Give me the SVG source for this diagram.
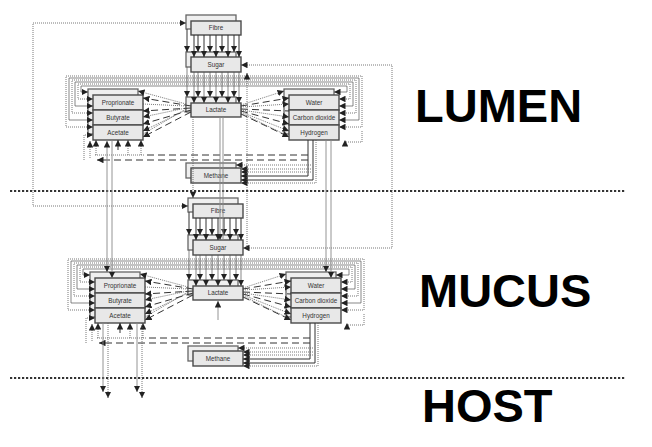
<svg xmlns="http://www.w3.org/2000/svg" xmlns:xlink="http://www.w3.org/1999/xlink" width="652" height="447" viewBox="0 0 652 447">
<style>
.bk{fill:#efefef;stroke:#666;stroke-width:1.3}
.fr{fill:#e8e8e8;stroke:#4a4a4a;stroke-width:1.4}
.lb{font-family:"Liberation Sans",Arial,sans-serif;font-size:6.3px;fill:#333;text-anchor:middle}
.zone{font-family:"Liberation Sans",Arial,sans-serif;font-size:47px;font-weight:bold;fill:#000}
.dv{stroke:#333;stroke-width:2.2;stroke-dasharray:2.2 1.8;fill:none}
.s{stroke:#333;stroke-width:1;fill:none}
.g{stroke:#555;stroke-width:.7;fill:none}
.d{stroke:#555;stroke-width:.8;stroke-dasharray:1 1;fill:none}
.k{stroke:#333;stroke-width:1;stroke-dasharray:7 4;fill:none}
.lg{stroke:#888;stroke-width:.9;fill:none}
.e{marker-end:url(#a)}
.b{marker-start:url(#a);marker-end:url(#a)}
</style>
<defs>
<marker id="a" viewBox="0 0 10 10" refX="10" refY="5" markerWidth="6.5" markerHeight="6.5" markerUnits="userSpaceOnUse" orient="auto-start-reverse"><path d="M0,0L10,5L0,10z" fill="#222"/></marker>
</defs>
<rect width="652" height="447" fill="#fff"/>

<!-- zone dividers and labels -->
<g id="zones">
<line class="dv" x1="10" y1="191" x2="626" y2="191"/>
<line class="dv" x1="10" y1="378" x2="626" y2="378"/>
<text class="zone" x="415" y="122">LUMEN</text>
<text class="zone" x="419" y="307">MUCUS</text>
<text class="zone" x="422" y="422">HOST</text>
</g>

<!-- LUMEN nodes -->
<g id="lumen-fibre"><rect class="bk" x="186" y="15" width="50" height="14"/><rect class="fr" x="191" y="21" width="50" height="14"/><text class="lb" x="216" y="30.2">Fibre</text></g>
<g id="lumen-sugar"><rect class="bk" x="186" y="52" width="50" height="15"/><rect class="fr" x="191" y="57" width="50" height="15"/><text class="lb" x="216" y="66.7">Sugar</text></g>
<g id="lumen-lactate"><rect class="bk" x="186" y="97" width="50" height="15"/><rect class="fr" x="191" y="103" width="50" height="14"/><text class="lb" x="216" y="112.2">Lactate</text></g>
<g id="lumen-methane"><rect class="bk" x="186" y="163" width="50" height="15"/><rect class="fr" x="191" y="168" width="50" height="15"/><text class="lb" x="216" y="177.7">Methane</text></g>
<g id="lumen-scfa-stack"><rect class="bk" x="88" y="89" width="50" height="45"/></g>
<g id="lumen-proprionate"><rect class="fr" x="93" y="95" width="50" height="15"/><text class="lb" x="118" y="104.7">Proprionate</text></g>
<g id="lumen-butyrate"><rect class="fr" x="93" y="110" width="50" height="15"/><text class="lb" x="118" y="119.7">Butyrate</text></g>
<g id="lumen-acetate"><rect class="fr" x="93" y="125" width="50" height="15"/><text class="lb" x="118" y="134.7">Acetate</text></g>
<g id="lumen-gas-stack"><rect class="bk" x="284" y="89" width="50" height="45"/></g>
<g id="lumen-water"><rect class="fr" x="289" y="95" width="50" height="15"/><text class="lb" x="314" y="104.7">Water</text></g>
<g id="lumen-co2"><rect class="fr" x="289" y="110" width="50" height="15"/><text class="lb" x="314" y="119.7">Carbon dioxide</text></g>
<g id="lumen-hydrogen"><rect class="fr" x="289" y="125" width="50" height="15"/><text class="lb" x="314" y="134.7">Hydrogen</text></g>

<!-- MUCUS nodes -->
<g id="mucus-fibre"><rect class="bk" x="188" y="198" width="50" height="14"/><rect class="fr" x="193" y="204" width="50" height="14"/><text class="lb" x="218" y="213.2">Fibre</text></g>
<g id="mucus-sugar"><rect class="bk" x="188" y="235" width="50" height="15"/><rect class="fr" x="193" y="240" width="50" height="15"/><text class="lb" x="218" y="249.7">Sugar</text></g>
<g id="mucus-lactate"><rect class="bk" x="188" y="280" width="50" height="15"/><rect class="fr" x="193" y="286" width="50" height="14"/><text class="lb" x="218" y="295.2">Lactate</text></g>
<g id="mucus-methane"><rect class="bk" x="188" y="346" width="50" height="15"/><rect class="fr" x="193" y="351" width="50" height="15"/><text class="lb" x="218" y="360.7">Methane</text></g>
<g id="mucus-scfa-stack"><rect class="bk" x="90" y="272" width="50" height="45"/></g>
<g id="mucus-proprionate"><rect class="fr" x="95" y="278" width="50" height="15"/><text class="lb" x="120" y="287.7">Proprionate</text></g>
<g id="mucus-butyrate"><rect class="fr" x="95" y="293" width="50" height="15"/><text class="lb" x="120" y="302.7">Butyrate</text></g>
<g id="mucus-acetate"><rect class="fr" x="95" y="308" width="50" height="15"/><text class="lb" x="120" y="317.7">Acetate</text></g>
<g id="mucus-gas-stack"><rect class="bk" x="286" y="272" width="50" height="45"/></g>
<g id="mucus-water"><rect class="fr" x="291" y="278" width="50" height="15"/><text class="lb" x="316" y="287.7">Water</text></g>
<g id="mucus-co2"><rect class="fr" x="291" y="293" width="50" height="15"/><text class="lb" x="316" y="302.7">Carbon dioxide</text></g>
<g id="mucus-hydrogen"><rect class="fr" x="291" y="308" width="50" height="15"/><text class="lb" x="316" y="317.7">Hydrogen</text></g>

<!-- connectors -->
<g id="connectors">
<g id="flows-lumen">
<!-- fibre to sugar -->
<path class="s e" d="M187,29V52"/><path class="s e" d="M198,35V52"/><path class="s e" d="M210,35V52"/><path class="s e" d="M222,35V52"/><path class="s e" d="M234,35V52"/>
<path class="s e" d="M194,35V57"/><path class="s e" d="M204,35V57"/><path class="s e" d="M216,35V57"/><path class="s e" d="M228,35V57"/><path class="s e" d="M239,35V57"/>
<!-- sugar to lactate -->
<path class="g e" d="M187,67V97"/><path class="g e" d="M198,72V97"/><path class="g e" d="M210,72V97"/><path class="g e" d="M222,72V97"/><path class="g e" d="M234,72V97"/>
<path class="g e" d="M194,72V103"/><path class="g e" d="M204,72V103"/><path class="g e" d="M216,72V103"/><path class="g e" d="M228,72V103"/><path class="g e" d="M239,72V103"/>
<!-- lactate to SCFA fan -->
<path class="d e" d="M186,104L138,91"/>
<path class="k e" d="M191,106L143,98"/>
<path class="d" d="M186,106L143,104"/>
<path class="k e" d="M191,108L143,111"/>
<path class="d e" d="M186,108L143,117"/>
<path class="k e" d="M191,110L143,124"/>
<path class="d e" d="M186,110L143,131"/>
<path class="k e" d="M191,112L143,137"/>
<path class="d" d="M186,109L143,134"/>
<!-- lactate to gas fan -->
<path class="d e" d="M241,105L284,91"/>
<path class="k e" d="M241,106L289,98"/>
<path class="d e" d="M241,107L289,104"/>
<path class="k" d="M241,109L289,111"/>
<path class="d e" d="M241,110L289,117"/>
<path class="k e" d="M241,111L289,124"/>
<path class="d e" d="M241,112L289,131"/>
<path class="k e" d="M241,114L289,137"/>
<path class="d" d="M241,113L284,134"/>
<!-- recirculation loops -->
<path class="d b" d="M93,127H66V76H362V127H339"/>
<path class="g b" d="M93,120H69V78H359V120H339"/>
<path class="d b" d="M93,113H72V80H356V113H339"/>
<path class="g b" d="M93,106H75V82H353V106H339"/>
<path class="d b" d="M93,99H78V84H350V99H339"/>
<path class="g b" d="M88,92H81V86H347V92H334"/>
<path class="d e" d="M362,131V142H345V140"/>
<path class="d e" d="M84,160V135H93"/>
<!-- below SCFA -->
<path class="d" d="M95,155H145"/>
<path class="d e" d="M96,155V140"/>
<path class="s e" d="M118,150V140"/>
<path class="d e" d="M128,155V140"/>
<path class="d e" d="M141,155V140"/>
<path class="d e" d="M90,158V141"/>
<path class="k" d="M308,155H145"/>
<path class="k e" d="M308,160H97"/>
<!-- hydrogen to methane -->
<path class="s e" d="M308,140V176H241"/>
<path class="s e" d="M313,140V180H241"/>
<path class="d e" d="M311,165H236"/>
<path class="d e" d="M311,169H241"/>
<path class="d e" d="M311,172H241"/>
<path class="d e" d="M316,140V183H241"/>
</g>
<use xlink:href="#flows-lumen" href="#flows-lumen" transform="translate(2,183)"/>

<!-- between lumen and mucus -->
<path class="d b" d="M186,23H33V206H188"/>
<path class="d b" d="M241,65H392V248H243"/>
<path class="d e" d="M247,248V73"/>
<path class="d e" d="M193,117V198"/>
<path class="lg e" d="M220,117V240"/>
<path class="lg" d="M223,117V240"/>
<path class="lg b" d="M107,141V272"/>
<path class="lg e" d="M112,140V278"/>
<path class="lg e" d="M326,140V272"/>
<path class="lg e" d="M331,140V278"/>
<!-- mucus lactate stub -->
<path class="lg e" d="M218,320V301"/>
<!-- mucus to host -->
<path class="lg e" d="M103,323V392"/>
<path class="d e" d="M108,323V398"/>
<path class="lg e" d="M137,323V392"/>
<path class="d e" d="M142,323V398"/>
</g>
</svg>
